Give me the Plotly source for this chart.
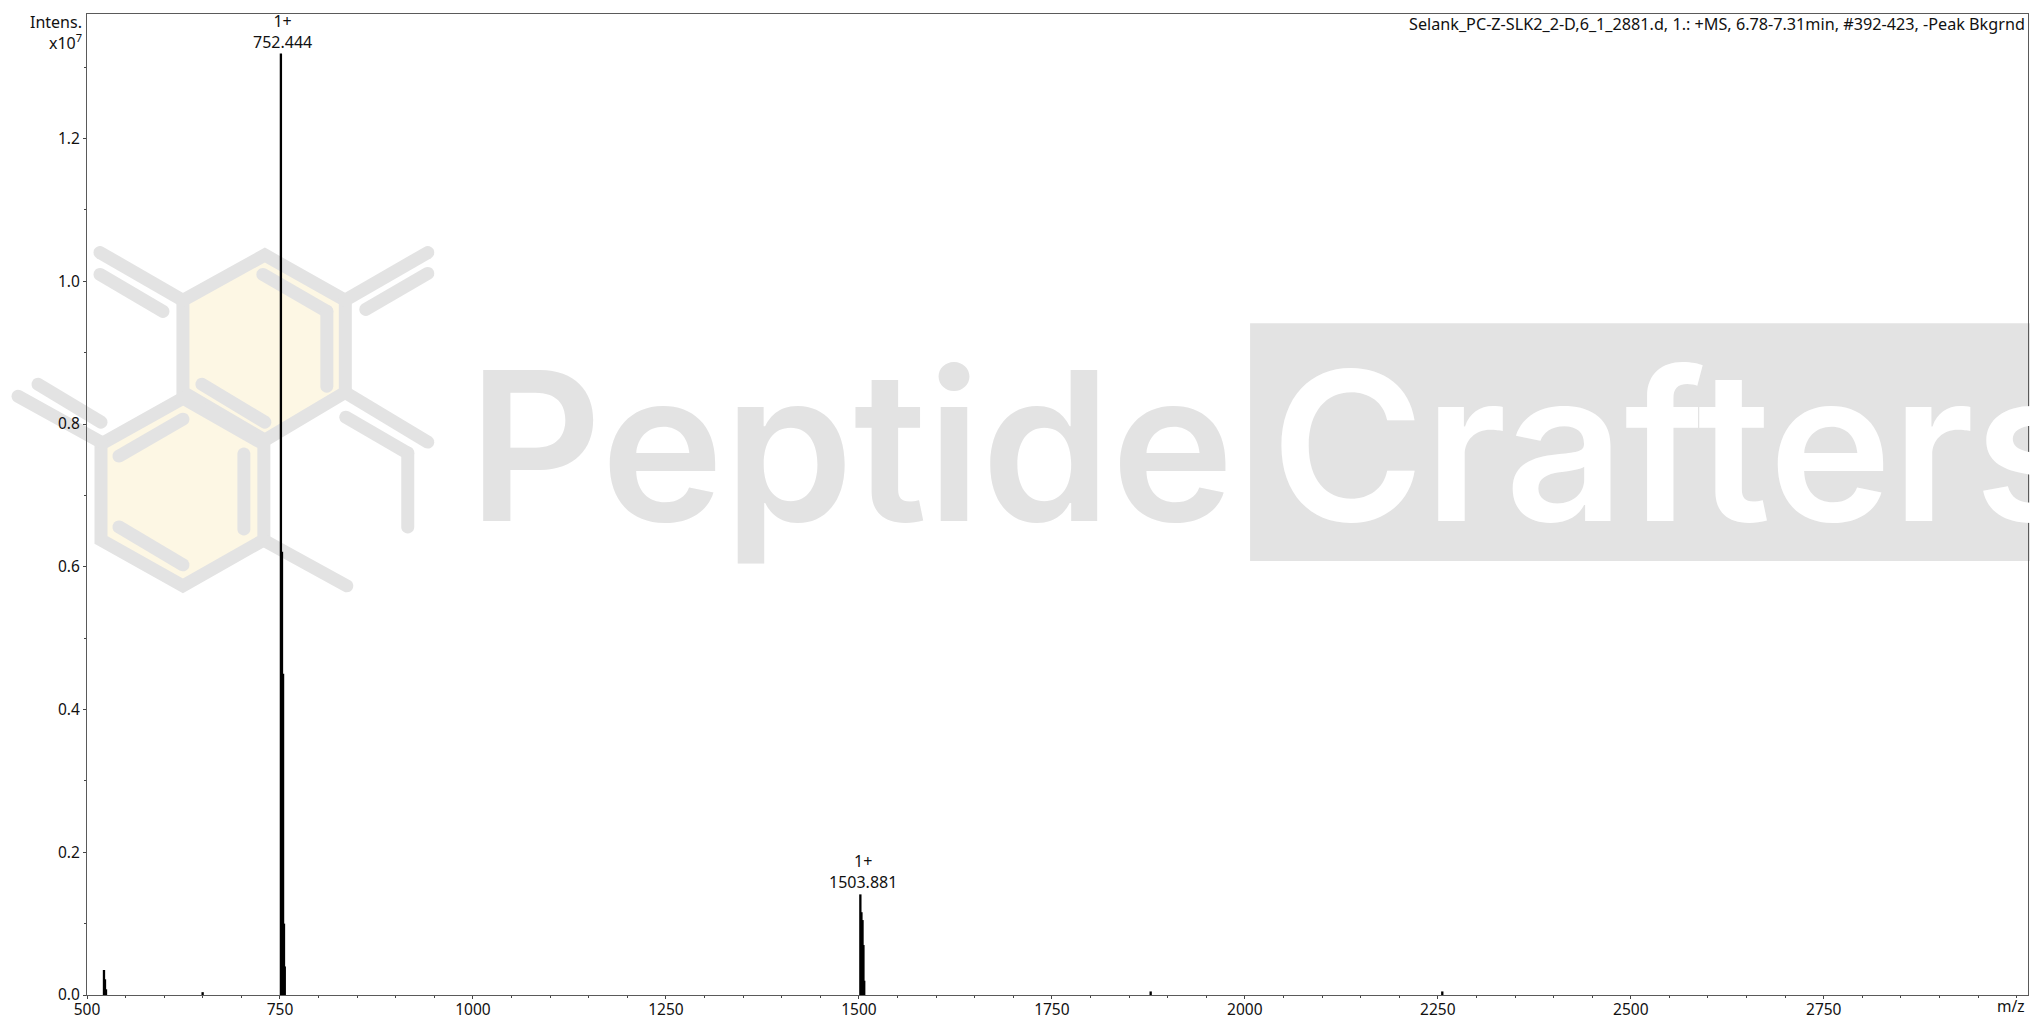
import math
import plotly.graph_objects as go

# ---------- data ----------
peak_mz = [522.0, 523.3, 524.6, 649.8,
           751.2, 752.6, 754.0, 755.2, 756.2,
           1501.9, 1503.3, 1504.7, 1505.9, 1506.9,
           1878.0, 2255.8]
peak_int = [0.035, 0.022, 0.008, 0.004,
            1.319, 0.621, 0.450, 0.100, 0.040,
            0.141, 0.116, 0.105, 0.070, 0.020,
            0.005, 0.005]
label_mz = [752.444, 1503.881]
label_int = [1.319, 0.141]
label_charge = ["1+", "1+"]
label_text = ["752.444", "1503.881"]
x_ticks = [500, 750, 1000, 1250, 1500, 1750, 2000, 2250, 2500, 2750]
y_ticks = [0.0, 0.2, 0.4, 0.6, 0.8, 1.0, 1.2]
header = "Selank_PC-Z-SLK2_2-D,6_1_2881.d, 1.: +MS, 6.78-7.31min, #392-423, -Peak Bkgrnd"

# ---------- page geometry ----------
W, H = 2030, 1020
L, R, T, B = 87, 2029.5, 14, 997
GRAY, CREAM, FG = "#E3E3E3", "#FDF7E4", "#111111"
FONT = "Noto Sans"

def px(x): return (x - L) / (R - L)
def py(y): return (B - y) / (B - T)

def poly(points):
    return "M " + " L ".join(f"{px(x):.5f},{py(y):.5f}" for x, y in points) + " Z"

def capsule(x0, y0, x1, y1, r=6.5):
    a = math.atan2(y1 - y0, x1 - x0)
    pts = []
    for i in range(13):
        t = a + math.pi / 2 + math.pi * i / 12
        pts.append((x0 + r * math.cos(t), y0 + r * math.sin(t)))
    for i in range(13):
        t = a - math.pi / 2 + math.pi * i / 12
        pts.append((x1 + r * math.cos(t), y1 + r * math.sin(t)))
    return poly(pts)

hexagons = [
    [(265, 255.5), (345.5, 301), (345.5, 393), (265, 441), (183, 393), (183, 301)],
    [(183, 399), (264, 445), (264, 541), (183, 587), (101, 541), (101, 445)],
]
bonds = [
    (100, 253, 183, 301), (100, 275, 163, 312),
    (345, 301, 428, 253), (366, 310, 428, 274),
    (263, 275, 327, 312), (327, 312, 327, 387),
    (202, 385, 265, 423),
    (345, 393, 428, 443), (346, 418, 408, 454), (408, 454, 408, 528),
    (265, 542, 347, 587),
    (18, 397, 101, 443), (38, 385, 101, 423),
    (119, 457, 183, 420), (244, 455, 244, 530), (119, 528, 183, 566),
]

shapes = []
for h in hexagons:
    shapes.append(dict(type="path", path=poly(h), xref="paper", yref="paper",
                       fillcolor=CREAM, line=dict(color=GRAY, width=13), layer="below"))
for b in bonds:
    shapes.append(dict(type="path", path=capsule(*b), xref="paper", yref="paper",
                       fillcolor=GRAY, line=dict(width=0), layer="below"))
shapes.append(dict(type="rect", xref="paper", yref="paper", x0=px(1251), x1=px(2040),
                   y0=py(562), y1=py(324), fillcolor=GRAY, line=dict(width=0), layer="below"))

def text(x, y, s, size=16, anchor="center", color=FG, family=FONT, weight=None):
    f = dict(family=family, size=size, color=color)
    if weight:
        f["weight"] = weight
    return dict(xref="paper", yref="paper", x=px(x), y=py(y), text=s, showarrow=False,
                xanchor=anchor, yanchor="middle", font=f, borderpad=0, borderwidth=0)

annotations = [
    text(468, 446, "Peptide", size=208, anchor="left", color=GRAY, family="Inter", weight=600),
    text(1272, 446, "Crafters", size=208, anchor="left", color="#FFFFFF", family="Inter", weight=600),
    text(82, 22, "Intens.", anchor="right"),
    text(82, 42, "x10<sup>7</sup>", anchor="right"),
    text(2026, 1008, "m/z", size=15.5, anchor="right"),
    text(2026, 24, header, size=16.2, anchor="right"),
]
for mz, v, c, t in zip(label_mz, label_int, label_charge, label_text):
    annotations.append(dict(x=mz, y=v, xref="x", yref="y", text=c + "<br>" + t, showarrow=False,
                            xanchor="center", yanchor="bottom", yshift=-1, xshift=1, align="center",
                            font=dict(family=FONT, size=16, color=FG)))

fig = go.Figure(go.Bar(x=peak_mz, y=peak_int, width=3.0, marker=dict(color="#000000", line=dict(width=0))))

axis_style = dict(showgrid=False, zeroline=False, showline=True, linecolor="#5A5A5A", linewidth=1,
                  mirror=True, ticks="outside", tickcolor="#444444", tickwidth=1, ticklen=3,
                  tickfont=dict(family=FONT, size=15.5, color=FG))
fig.update_xaxes(range=[500, 3014.6], tickmode="array", tickvals=x_ticks,
                 ticktext=[str(v) for v in x_ticks], ticklabelstandoff=-3,
                 minor=dict(dtick=50, ticks="outside", ticklen=2, tickcolor="#444444"), **axis_style)
fig.update_yaxes(range=[0, 1.3745], tickmode="array", tickvals=y_ticks,
                 ticktext=[f"{v:.1f}" for v in y_ticks],
                 minor=dict(dtick=0.1, ticks="outside", ticklen=2, tickcolor="#444444"), **axis_style)
fig.update_layout(width=W, height=H, autosize=False, showlegend=False,
                  paper_bgcolor="#FFFFFF", plot_bgcolor="rgba(0,0,0,0)",
                  margin=dict(l=L, r=W - R, t=T, b=H - B - 3, pad=0),
                  shapes=shapes, annotations=annotations)
fig.write_html("out.html", config=dict(displayModeBar=False),
               post_script="document.body.style.margin='0';document.body.style.overflow='hidden';")
